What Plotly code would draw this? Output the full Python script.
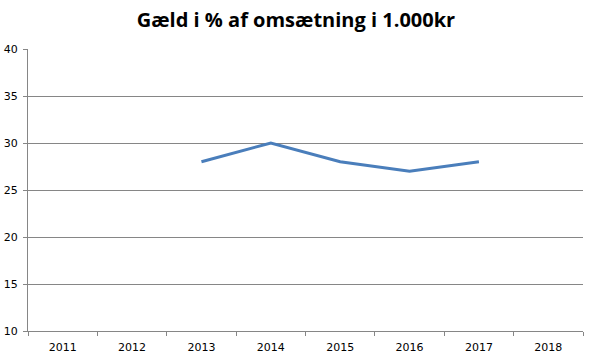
import plotly.graph_objects as go

years = ["2011", "2012", "2013", "2014", "2015", "2016", "2017", "2018"]
values = [None, None, 28, 30, 28, 27, 28, None]
title_text = "Gæld i % af omsætning i 1.000kr"

fig = go.Figure()
fig.add_trace(go.Scatter(
    x=years, y=values, mode="lines",
    line=dict(color="#4a7ebb", width=3),
    connectgaps=False, showlegend=False, hoverinfo="skip",
))

fig.update_layout(
    width=592, height=360,
    margin=dict(l=28, r=9, t=49, b=29, autoexpand=False),
    paper_bgcolor="white", plot_bgcolor="white",
    title=dict(text="<b>" + title_text + "</b>", x=0.5, xanchor="center",
               y=1 - 20 / 360, yanchor="middle",
               font=dict(family="Open Sans", size=20, color="black")),
    font=dict(family="DejaVu Sans", size=11, color="black"),
)
fig.update_xaxes(
    type="category", range=[-0.5, 7.5], categoryorder="array", categoryarray=years,
    showline=True, linecolor="#868686", linewidth=1,
    ticks="outside", tickson="boundaries", ticklen=4, tickcolor="#868686",
    showgrid=False, zeroline=False, fixedrange=True, automargin=False,
    ticklabelstandoff=6,
    tickfont=dict(family="DejaVu Sans", size=11, color="black"),
)
fig.update_yaxes(
    range=[10, 40], dtick=5, tick0=10,
    showline=True, linecolor="#868686", linewidth=1,
    ticks="outside", ticklen=4, tickcolor="#868686",
    showgrid=True, gridcolor="#868686", gridwidth=1, zeroline=False,
    automargin=False, fixedrange=True, ticklabelstandoff=3,
    tickfont=dict(family="DejaVu Sans", size=11, color="black"),
)
fig.write_html(
    "out.html",
    config={"displayModeBar": False, "staticPlot": True},
    post_script="document.body.style.margin='0';document.body.style.overflow='hidden';",
)
